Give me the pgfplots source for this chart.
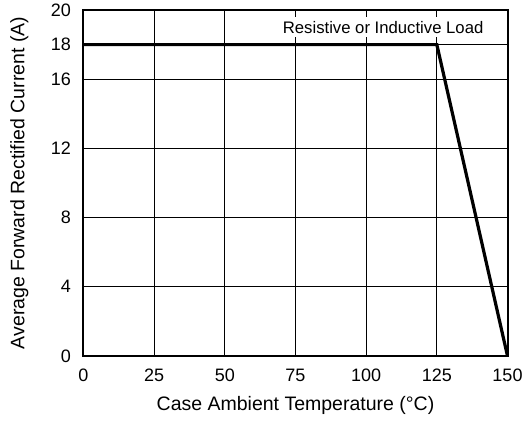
\documentclass[border=0pt]{standalone}
\usepackage{pgfplots}
\pgfplotsset{compat=1.18}
\usepackage{fontspec}
\setmainfont{Liberation Sans}
\begin{document}
\begin{tikzpicture}
\begin{axis}[
  at={(0,0)}, anchor=south west,
  scale only axis, width=424pt, height=346pt,
  xmin=0, xmax=150, ymin=0, ymax=20,
  xtick={0,25,50,75,100,125,150},
  ytick={0,4,8,12,16,18,20},
  grid=major,
  major grid style={black, line width=0.8pt},
  tick style={draw=none},
  axis line style={black, line width=2pt},
  /pgf/number format/assume math mode=true,
  ticklabel style={font=\fontsize{18}{18}\selectfont},
  xticklabel style={inner sep=0pt, anchor=north, yshift=-13pt},
  yticklabel style={inner sep=0pt, anchor=east, xshift=-12.5pt},
  xlabel={Case Ambient Temperature (°C)},
  ylabel={Average Forward Rectified Current (A)},
  label style={font=\fontsize{19.5}{20}\selectfont, inner sep=0pt},
  xlabel style={at={([yshift=-40pt]rel axis cs:0.5,0)}, anchor=north},
  ylabel style={at={([xshift=-73.5pt]rel axis cs:0,0.5)}, rotate=0, anchor=north},
]
\addplot[black, line width=3.2pt, sharp plot, mark=none] coordinates {(0,18) (125,18) (150,0)};
\node[font=\fontsize{16.7}{17}\selectfont, inner xsep=1pt, inner ysep=4pt, fill=white] at (axis cs:106,19) {Resistive or Inductive Load};
\end{axis}
\pgfresetboundingbox
\path (-83.5pt,-65pt) rectangle (443.5pt,356pt);
\end{tikzpicture}
\end{document}
